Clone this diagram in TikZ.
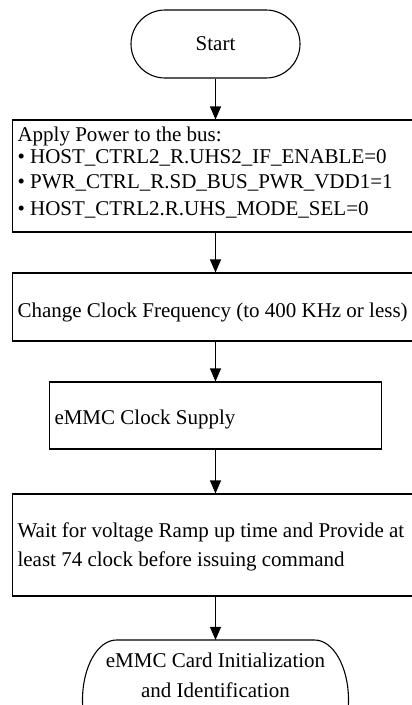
\documentclass[tikz,border=0pt]{standalone}
\usepackage{fontspec}
\setmainfont{Liberation Serif}
\usetikzlibrary{arrows.meta}

\begin{document}
\begin{tikzpicture}[x=1pt, y=-1pt,
   box/.style={draw, line width=1.1pt, inner sep=5pt, align=flush left, font=\fontsize{21pt}{24pt}\selectfont},
   widebox/.style={box, anchor=west, text width=440pt},
   term/.style={draw, line width=1.1pt, rounded corners=34pt, minimum width=169pt, minimum height=68pt, font=\fontsize{21pt}{24pt}\selectfont},
   flow/.style={line width=1.1pt, -{Triangle[length=13pt,width=11pt]}}]
   % Page frame
   \clip (0,0) rectangle (412,705);
   % Flow chart steps
   \node[term] (start) at (215.5,44) {Start};
   \node[widebox, minimum height=112pt, text depth=84pt] (power) at (12,176) {Apply Power to the bus:\\[-2pt]
      • HOST\_CTRL2\_R.UHS2\_IF\_ENABLE=0\\[1pt]
      • PWR\_CTRL\_R.SD\_BUS\_PWR\_VDD1=1\\[3pt]
      • HOST\_CTRL2.R.UHS\_MODE\_SEL=0};
   \node[widebox, minimum height=68pt, text height=24pt, text depth=3.7pt] (freq) at (12,307) {Change Clock Frequency (to 400 KHz or less)};
   \node[box, text width=322pt, minimum height=67pt, text height=23.5pt, text depth=4.6pt] (clock) at (215.5,415.5) {eMMC Clock Supply};
   \node[widebox, minimum height=102pt, text height=19.5pt] (ramp) at (12,545) {Wait for voltage Ramp up time and Provide at\\[5pt]
      least 74 clock before issuing command};
   \node[align=center, inner ysep=12.5pt, font=\fontsize{21pt}{24pt}\selectfont] (init) at (215.5,675) {eMMC Card Initialization\\[6pt]and Identification};
   % End terminator outline
   \draw[line width=1.1pt] (116.5,640) -- (314.5,640) arc[start angle=-90, end angle=90, x radius=34, y radius=60]
      -- (116.5,760) arc[start angle=90, end angle=270, x radius=34, y radius=60] -- cycle;
   % Connectors
   \draw[flow] (start) -- (start |- power.north);
   \draw[flow] (start |- power.south) -- (start |- freq.north);
   \draw[flow] (start |- freq.south) -- (clock);
   \draw[flow] (clock) -- (start |- ramp.north);
   \draw[flow] (start |- ramp.south) -- (init);
\end{tikzpicture}
\end{document}
